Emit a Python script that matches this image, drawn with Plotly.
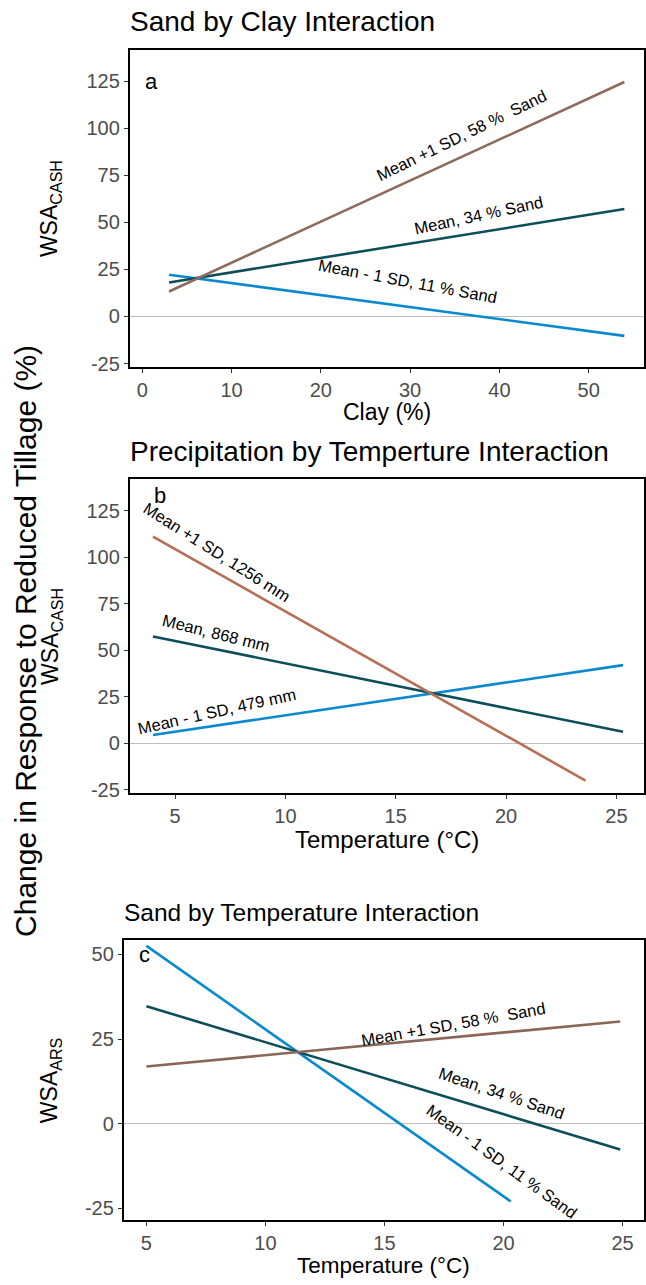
import plotly.graph_objects as go

# ---------------- data ----------------
clay = [3, 54]
a_plus = [13.3, 124.6]
a_mean = [18.1, 57.1]
a_minus = [22.2, -10.3]

temp_b = [4, 25.3]
temp_b_plus = [4, 23.6]
b_plus = [111.0, -20.0]
b_mean = [57.4, 6.2]
b_minus = [4.5, 42.0]

temp_c = [5, 24.9]
temp_c_minus = [5, 20.3]
c_plus = [16.9, 30.2]
c_mean = [34.7, -7.6]
c_minus = [52.5, -22.9]

labels_a = ["Mean +1 SD, 58 %  Sand", "Mean, 34 % Sand", "Mean - 1 SD, 11 % Sand"]
labels_b = ["Mean +1 SD, 1256 mm", "Mean, 868 mm", "Mean - 1 SD, 479 mm"]
labels_c = ["Mean +1 SD, 58 %  Sand", "Mean, 34 % Sand", "Mean - 1 SD, 11 % Sand"]

titles = ["Sand by Clay Interaction", "Precipitation by Temperture Interaction",
          "Sand by Temperature Interaction"]
xtitles = ["Clay (%)", "Temperature (°C)", "Temperature (°C)"]
ytitles = ["WSA<sub>CASH</sub>", "WSA<sub>CASH</sub>", "WSA<sub>ARS</sub>"]
xticks = [[0, 10, 20, 30, 40, 50], [5, 10, 15, 20, 25], [5, 10, 15, 20, 25]]
yticks = [[-25, 0, 25, 50, 75, 100, 125], [-25, 0, 25, 50, 75, 100, 125], [-25, 0, 25, 50]]

# ---------------- style ----------------
BLUE = "#0B89CF"
TEAL = "#0C4E59"
BROWN_A = "#8E6A5B"
BROWN_B = "#B66F55"
BROWN_C = "#8B6656"
FONT = "Liberation Sans, Arial, sans-serif"
W, H = 646, 1285


def px_x(p):
    return p / W


def px_y(p):
    return 1 - p / H


fig = go.Figure()


def line(x, y, color, xa, ya):
    fig.add_trace(go.Scatter(x=x, y=y, mode="lines", line=dict(color=color, width=2.6),
                             xaxis=xa, yaxis=ya, showlegend=False, hoverinfo="skip"))


line(clay, a_minus, BLUE, "x", "y")
line(clay, a_mean, TEAL, "x", "y")
line(clay, a_plus, BROWN_A, "x", "y")

line(temp_b, b_minus, BLUE, "x2", "y2")
line(temp_b, b_mean, TEAL, "x2", "y2")
line(temp_b_plus, b_plus, BROWN_B, "x2", "y2")

line(temp_c_minus, c_minus, BLUE, "x3", "y3")
line(temp_c, c_mean, TEAL, "x3", "y3")
line(temp_c, c_plus, BROWN_C, "x3", "y3")

# panel pixel boxes: (left, right, top, bottom)
boxes = [(130, 645, 50, 369), (130, 645, 482, 798), (124, 645, 946, 1228)]
xranges = [[-1.4, 56.2], [2.95, 26.25], [4.05, 25.9]]
yranges = [[-26.7, 141.8], [-26.7, 142.0], [-28.5, 54.2]]
title_sizes = [28, 28, 24.5]
xtitle_sizes = [23, 24, 22.5]
xtitle_off = [46, 47, 45]
ytitle_x = [50, 51, 50]

layout = dict(width=W, height=H, margin=dict(l=0, r=0, t=0, b=0),
              plot_bgcolor="white", paper_bgcolor="white",
              font=dict(family=FONT, color="black"))

axis_common = dict(showgrid=False, showline=True, mirror=True, linecolor="black", linewidth=2,
                   ticks="outside", ticklen=4, tickwidth=1, tickcolor="#333333",
                   tickfont=dict(size=20, color="#4D4D4D", family=FONT))

annotations = []
for i in range(3):
    l, r, t, b = boxes[i]
    sfx = "" if i == 0 else str(i + 1)
    layout["xaxis" + sfx] = dict(axis_common, domain=[px_x(l), px_x(r)], range=xranges[i],
                                 tickvals=xticks[i], ticktext=[str(v) for v in xticks[i]],
                                 zeroline=False, anchor="y" + sfx)
    layout["yaxis" + sfx] = dict(axis_common, domain=[px_y(b), px_y(t)], range=yranges[i],
                                 tickvals=yticks[i], ticktext=[str(v) for v in yticks[i]],
                                 zeroline=True, zerolinecolor="#BEBEBE",
                                 zerolinewidth=1.2, anchor="x" + sfx)
    # panel title
    annotations.append(dict(text=titles[i], xref="paper", yref="paper",
                            x=px_x(l - 2), y=px_y(t - 28), xanchor="left", yanchor="middle",
                            showarrow=False, font=dict(size=title_sizes[i], color="black")))
    # x title
    annotations.append(dict(text=xtitles[i], xref="paper", yref="paper",
                            x=px_x((l + r) / 2), y=px_y(b + xtitle_off[i]), xanchor="center",
                            yanchor="middle", showarrow=False,
                            font=dict(size=xtitle_sizes[i], color="black")))
    # y title
    annotations.append(dict(text=ytitles[i], xref="paper", yref="paper",
                            x=px_x(ytitle_x[i]), y=px_y((t + b) / 2),
                            xanchor="center", yanchor="middle", textangle=-90,
                            showarrow=False, font=dict(size=23, color="black")))

# panel letters
annotations.append(dict(text="a", x=1.0, y=125, xref="x", yref="y", showarrow=False,
                        font=dict(size=22, color="black")))
annotations.append(dict(text="b", x=4.3, y=133, xref="x2", yref="y2", showarrow=False,
                        font=dict(size=22, color="black")))
annotations.append(dict(text="c", x=4.9, y=50, xref="x3", yref="y3", showarrow=False,
                        font=dict(size=22, color="black")))


def lab(text, x, y, ang, xr, yr):
    annotations.append(dict(text=text, x=x, y=y, xref=xr, yref=yr, showarrow=False,
                            textangle=ang, xanchor="center", yanchor="middle",
                            font=dict(size=16.5, color="black")))


lab(labels_a[0], 35.8, 96.6, -26, "x", "y")
lab(labels_a[1], 37.7, 54.0, -12, "x", "y")
lab(labels_a[2], 29.7, 18.6, 10.5, "x", "y")

lab(labels_b[0], 6.9, 102.8, 32.5, "x2", "y2")
lab(labels_b[1], 6.86, 59.0, 14, "x2", "y2")
lab(labels_b[2], 6.9, 17.5, -12.5, "x2", "y2")

lab(labels_c[0], 17.9, 29.3, -10, "x3", "y3")
lab(labels_c[1], 19.9, 9.0, 18.5, "x3", "y3")
lab(labels_c[2], 19.9, -11.1, 36, "x3", "y3")

# shared y title
annotations.append(dict(text="Change in Response to Reduced Tillage (%)", xref="paper", yref="paper",
                        x=px_x(26), y=px_y(645), xanchor="center", yanchor="middle", textangle=-90,
                        showarrow=False, font=dict(size=30, color="black")))

layout["annotations"] = annotations
fig.update_layout(**layout)
fig.write_html("out.html", config={"displayModeBar": False},
               post_script="document.body.style.margin='0';document.body.style.padding='0';")
